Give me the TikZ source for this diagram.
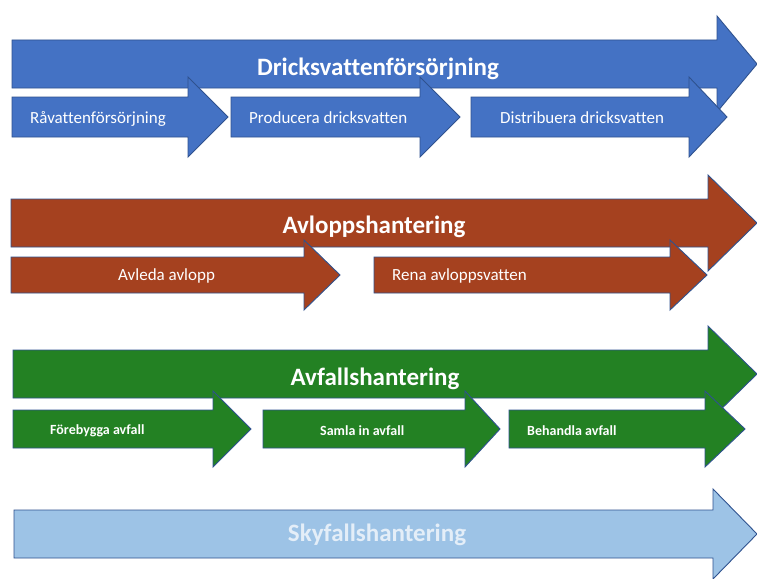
\documentclass[tikz,border=0pt]{standalone}
\usepackage{fontspec}
\setmainfont{Carlito}[Ligatures=CommonOff]
\definecolor{dblue}{HTML}{4472C4}
\definecolor{dbrown}{HTML}{A5411F}
\definecolor{dgreen}{HTML}{238123}
\definecolor{lblue}{HTML}{9DC3E6}
\definecolor{edge}{HTML}{2F528F}
\definecolor{paletext}{HTML}{E4EEF8}
\newcommand\harrow[7]{%
  \draw[arrowline, fill=#1] (#2,#5-#6) -- (#3,#5-#6) -- (#3,#5-#7) -- (#4,#5)
    -- (#3,#5+#7) -- (#3,#5+#6) -- (#2,#5+#6) -- cycle;}
\begin{document}
\begin{tikzpicture}[x=1pt,y=-1pt,
  arrowline/.style={draw=edge, line width=0.9pt, line join=miter},
  title/.style={text=white, inner sep=0pt, font=\fontsize{25}{30}\selectfont\bfseries},
  sub/.style={text=white, inner sep=0pt, anchor=west, font=\fontsize{17}{20}\selectfont},
  subb/.style={text=white, inner sep=0pt, anchor=west, font=\fontsize{14}{17}\selectfont\bfseries}]
\useasboundingbox (0,0) rectangle (757,578);
\fill[white] (0,0) rectangle (757,578);
% Row 1
\harrow{dblue}{12}{717}{757}{64}{24}{48}
\harrow{dblue}{12}{188}{228}{117}{20}{40}
\harrow{dblue}{231}{420}{460}{117}{20}{40}
\harrow{dblue}{471}{689}{727}{117}{20}{40}
\node[title] (t1) at (378,69) {Dricksvattenförsörjning};
\node[sub] (s11) at (30,119) {Råvattenförsörjning};
\node[sub] (s12) at (249,118) {Producera dricksvatten};
\node[sub] (s13) at (500,118) {Distribuera dricksvatten};
% Row 2
\harrow{dbrown}{11}{708}{757}{223}{24}{48}
\harrow{dbrown}{11}{304}{340}{275}{18}{35}
\harrow{dbrown}{374}{670}{707}{275}{18}{35}
\node[title] (t2) at (374,227) {Avloppshantering};
\node[sub] (s21) at (118,276) {Avleda avlopp};
\node[sub] (s22) at (392,276) {Rena avloppsvatten};
% Row 3
\harrow{dgreen}{13}{708}{757}{374}{24}{48}
\harrow{dgreen}{13}{213}{251}{429}{19}{38}
\harrow{dgreen}{263}{465}{500}{429}{19}{38}
\harrow{dgreen}{509}{705}{745}{429}{19}{38}
\node[title] (t3) at (375,379) {Avfallshantering};
\node[subb] (s31) at (50,431) {Förebygga avfall};
\node[subb] (s32) at (320,431) {Samla in avfall};
\node[subb] (s33) at (527,431) {Behandla avfall};
% Row 4
\harrow{lblue}{14}{713}{757}{534}{24}{45}
\node[title, text=paletext] (t4) at (377,535) {Skyfallshantering};
\end{tikzpicture}
\end{document}
